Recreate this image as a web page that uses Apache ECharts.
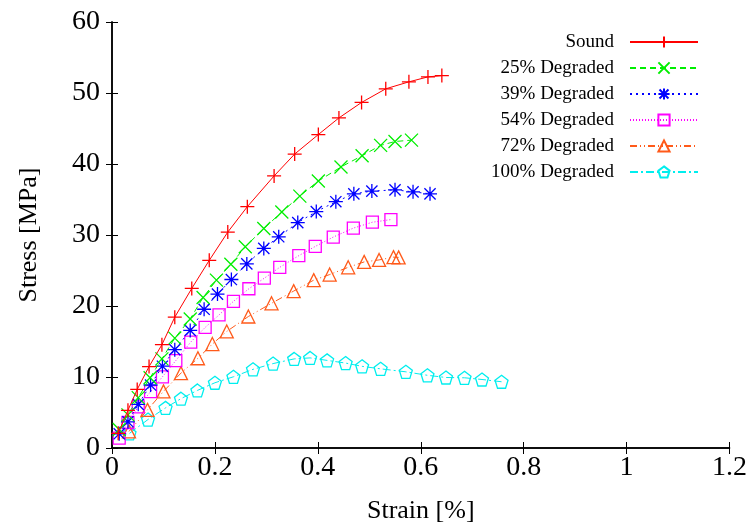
<!DOCTYPE html>
<html>
<head>
<meta charset="utf-8">
<script src="https://cdn.jsdelivr.net/npm/echarts@6/dist/echarts.min.js"></script>
<style>html,body{margin:0;padding:0;background:#fff}#c{width:750px;height:529px}</style>
</head>
<body>
<div id="c"></div>
<script>
// ---- data (strain [%], stress [MPa]) ----
const seriesNames = ['Sound', '25% Degraded', '39% Degraded', '54% Degraded', '72% Degraded', '100% Degraded'];
const xTicks = [0, 0.2, 0.4, 0.6, 0.8, 1, 1.2];
const yTicks = [0, 10, 20, 30, 40, 50, 60];

const sound = [
  [0.012, 2.06], [0.031, 5.31], [0.049, 8.25], [0.072, 11.47], [0.097, 14.55], [0.122, 18.43],
  [0.155, 22.47], [0.189, 26.43], [0.225, 30.41], [0.263, 33.99], [0.315, 38.32], [0.355, 41.4],
  [0.401, 44.15], [0.441, 46.49], [0.485, 48.67], [0.532, 50.59], [0.577, 51.57], [0.614, 52.27], [0.641, 52.45]
];
const deg25 = [
  [0.014, 2.6], [0.031, 4.67], [0.051, 7.09], [0.074, 9.89], [0.097, 12.55], [0.122, 15.48],
  [0.152, 18.18], [0.177, 21.2], [0.203, 23.64], [0.231, 25.87], [0.259, 28.35], [0.295, 30.91],
  [0.330, 33.24], [0.365, 35.48], [0.401, 37.61], [0.445, 39.58], [0.486, 41.17], [0.522, 42.62],
  [0.550, 43.17], [0.582, 43.36]
];
const deg39 = [
  [0.014, 2.0], [0.031, 3.69], [0.051, 6.15], [0.075, 8.87], [0.098, 11.52], [0.122, 13.85],
  [0.152, 16.56], [0.179, 19.54], [0.205, 21.68], [0.232, 23.73], [0.262, 25.93], [0.295, 28.11],
  [0.324, 29.75], [0.361, 31.75], [0.397, 33.3], [0.435, 34.69], [0.470, 35.8], [0.505, 36.18],
  [0.550, 36.36], [0.585, 36.08], [0.618, 35.8]
];
const deg54 = [
  [0.014, 1.4], [0.031, 3.59], [0.051, 5.79], [0.075, 7.93], [0.098, 10.03], [0.124, 12.31],
  [0.153, 14.92], [0.181, 16.98], [0.208, 18.74], [0.236, 20.66], [0.266, 22.43], [0.296, 23.92],
  [0.326, 25.45], [0.363, 27.09], [0.395, 28.39], [0.430, 29.71], [0.469, 30.97], [0.506, 31.8], [0.542, 32.17]
];
const deg72 = [
  [0.033, 2.33], [0.069, 5.37], [0.100, 7.97], [0.134, 10.55], [0.167, 12.64], [0.195, 14.64],
  [0.223, 16.42], [0.265, 18.52], [0.310, 20.38], [0.353, 22.1], [0.392, 23.64], [0.423, 24.43],
  [0.459, 25.45], [0.490, 26.21], [0.519, 26.49], [0.547, 26.88], [0.557, 26.85]
];
const deg100 = [
  [0.034, 2.06], [0.070, 4.01], [0.104, 5.65], [0.134, 6.95], [0.166, 8.11], [0.200, 9.19],
  [0.236, 10.03], [0.274, 11.08], [0.313, 11.89], [0.354, 12.55], [0.385, 12.69], [0.418, 12.34],
  [0.454, 11.96], [0.486, 11.5], [0.522, 11.15], [0.571, 10.73], [0.613, 10.24], [0.649, 9.93],
  [0.685, 9.89], [0.719, 9.65], [0.757, 9.33]
];

// ---- styles ----
const FONT = 'Liberation Serif';
const colors = ['#ff0000', '#00ee00', '#0000ff', '#ff00ff', '#ff5a1a', '#00eeee'];
const dashes = ['solid', [6, 4], [2, 4], [1, 2], [7, 3, 1, 3, 1, 3], [8, 3, 2, 3]];
const symbols = [
  'path://M0,-1L0,1M-1,0L1,0',
  'path://M-1,-1L1,1M-1,1L1,-1',
  'path://M0,-1L0,1M-1,0L1,0M-0.8,-0.8L0.8,0.8M-0.8,0.8L0.8,-0.8',
  'path://M-1,-1L1,-1L1,1L-1,1Z',
  'path://M0,-1L1,0.8L-1,0.8Z',
  'path://M0,-1L0.951,-0.309L0.588,0.809L-0.588,0.809L-0.951,-0.309Z'
];
const sizes = [14, 13, 14, 12, 13, 13];
const dataSets = [sound, deg25, deg39, deg54, deg72, deg100];

const series = dataSets.map((d, i) => ({
  name: seriesNames[i],
  type: 'line',
  xAxisIndex: 0,
  yAxisIndex: 0,
  data: d,
  symbol: symbols[i],
  symbolSize: sizes[i],
  showAllSymbol: true,
  lineStyle: { color: colors[i], width: 1, type: dashes[i] },
  itemStyle: { color: 'rgba(0,0,0,0)', borderColor: colors[i], borderWidth: 1.3 },
  emphasis: { disabled: true },
  animation: false,
  z: 10 - i
}));

const chart = echarts.init(document.getElementById('c'), null, { renderer: 'canvas' });
const axisLineStyle = { show: true, lineStyle: { color: '#000', width: 1.5 } };
const tickStyle = { show: true, inside: true, length: 6, lineStyle: { color: '#000', width: 1 } };

chart.setOption({
  animation: false,
  backgroundColor: '#fff',
  grid: { left: 112, right: 20, top: 22, bottom: 78, containLabel: false },
  legend: {
    orient: 'vertical',
    align: 'right',
    right: 51,
    top: 29,
    padding: 0,
    itemGap: 0,
    itemWidth: 68,
    itemHeight: 14,
    data: seriesNames,
    textStyle: { fontFamily: FONT, fontSize: 19, color: '#000', lineHeight: 26, padding: [0, 11, 0, 0] },
    selectedMode: false
  },
  xAxis: [
    {
      type: 'value', min: 0, max: 1.2, interval: 0.2, position: 'bottom',
      name: 'Strain [%]', nameLocation: 'middle', nameGap: 50,
      nameTextStyle: { fontFamily: FONT, fontSize: 26, color: '#000' },
      axisLine: axisLineStyle, axisTick: tickStyle, splitLine: { show: false },
      axisLabel: { fontFamily: FONT, fontSize: 28, color: '#000', margin: 6,
        formatter: v => { const t = xTicks.find(x => Math.abs(x - v) < 1e-6); return t === undefined ? '' : String(t); } }
    },
    {
      type: 'value', min: 0, max: 1.2, interval: 0.2, position: 'top',
      axisLine: axisLineStyle, axisTick: tickStyle, axisLabel: { show: false }, splitLine: { show: false }
    }
  ],
  yAxis: [
    {
      type: 'value', min: 0, max: 60, interval: 10, position: 'left',
      name: 'Stress [MPa]', nameLocation: 'middle', nameGap: 70, nameRotate: 90,
      nameTextStyle: { fontFamily: FONT, fontSize: 26, color: '#000' },
      axisLine: axisLineStyle, axisTick: tickStyle, splitLine: { show: false },
      axisLabel: { fontFamily: FONT, fontSize: 28, color: '#000', margin: 12,
        formatter: v => { const t = yTicks.find(y => Math.abs(y - v) < 1e-6); return t === undefined ? '' : String(t); } }
    },
    {
      type: 'value', min: 0, max: 60, interval: 10, position: 'right',
      axisLine: axisLineStyle, axisTick: tickStyle, axisLabel: { show: false }, splitLine: { show: false }
    }
  ],
  series: series
});
</script>
</body>
</html>
